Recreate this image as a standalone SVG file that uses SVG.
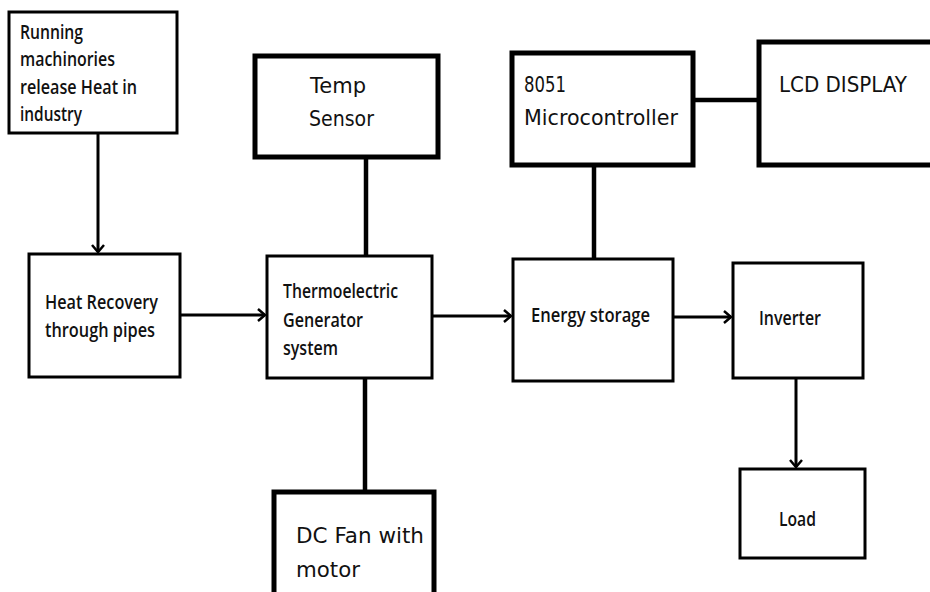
<svg xmlns="http://www.w3.org/2000/svg" width="930" height="592" viewBox="0 0 930 592">
<style>
.b{fill:#fff;stroke:#000;stroke-width:3}
.bt{fill:#fff;stroke:#000;stroke-width:5}
.c{fill:none;stroke:#000;stroke-width:3}
.ct{fill:none;stroke:#000;stroke-width:4.5}
.n{font-family:"Open Sans","Noto Sans",sans-serif;font-weight:600;font-size:19px;fill:#111}
.r{font-size:20px}
.g{font-family:"DejaVu Sans","Noto Sans",sans-serif;font-size:22px;fill:#111}
</style>
<defs>
<marker id="ar" markerWidth="14" markerHeight="14" refX="10" refY="7" orient="auto" markerUnits="userSpaceOnUse">
<path d="M3,1 L10,7 L3,13" fill="none" stroke="#000" stroke-width="2.5"/>
</marker>
</defs>
<rect width="930" height="592" fill="#fff"/>
<g id="connectors">
<line class="c" x1="98" y1="133" x2="98" y2="252" marker-end="url(#ar)"/>
<line class="c" x1="180" y1="315" x2="265" y2="315" marker-end="url(#ar)"/>
<line class="c" x1="432" y1="316" x2="511" y2="316" marker-end="url(#ar)"/>
<line class="c" x1="673" y1="317" x2="731" y2="317" marker-end="url(#ar)"/>
<line class="c" x1="796" y1="378" x2="796" y2="467" marker-end="url(#ar)"/>
<line class="ct" x1="366" y1="157" x2="366" y2="256"/>
<line class="ct" x1="365" y1="378" x2="365" y2="492"/>
<line class="ct" x1="594" y1="165" x2="594" y2="261"/>
<line class="ct" x1="693" y1="100" x2="758" y2="100"/>
</g>
<g id="running">
<rect class="b" x="9" y="12" width="168" height="121"/>
<text class="n r" x="20" y="39" textLength="63" lengthAdjust="spacingAndGlyphs">Running</text>
<text class="n r" x="20" y="66" textLength="95" lengthAdjust="spacingAndGlyphs">machinories</text>
<text class="n r" x="20" y="94" textLength="117" lengthAdjust="spacingAndGlyphs">release Heat in</text>
<text class="n r" x="20" y="121" textLength="62" lengthAdjust="spacingAndGlyphs">industry</text>
</g>
<g id="heatrecovery">
<rect class="b" x="29" y="254" width="151" height="123"/>
<text class="n" x="45" y="309" textLength="113" lengthAdjust="spacingAndGlyphs">Heat Recovery</text>
<text class="n" x="45" y="337" textLength="110" lengthAdjust="spacingAndGlyphs">through pipes</text>
</g>
<g id="teg">
<rect class="b" x="267" y="256" width="165" height="122"/>
<text class="n" x="283" y="298" textLength="115" lengthAdjust="spacingAndGlyphs">Thermoelectric</text>
<text class="n" x="283" y="327" textLength="80" lengthAdjust="spacingAndGlyphs">Generator</text>
<text class="n" x="283" y="355" textLength="55" lengthAdjust="spacingAndGlyphs">system</text>
</g>
<g id="tempsensor">
<rect class="bt" x="255" y="56" width="183" height="101"/>
<text class="g" x="310" y="93" textLength="56" lengthAdjust="spacingAndGlyphs">Temp</text>
<text class="g" x="309" y="126" textLength="65" lengthAdjust="spacingAndGlyphs">Sensor</text>
</g>
<g id="dcfan">
<rect class="bt" x="274" y="492" width="160" height="110"/>
<text class="g" x="296" y="543" textLength="128" lengthAdjust="spacingAndGlyphs">DC Fan with</text>
<text class="g" x="296" y="577" textLength="64" lengthAdjust="spacingAndGlyphs">motor</text>
</g>
<g id="mcu">
<rect class="bt" x="512" y="53" width="181" height="112"/>
<text class="g" x="524" y="92" textLength="42" lengthAdjust="spacingAndGlyphs">8051</text>
<text class="g" x="524" y="125" textLength="154" lengthAdjust="spacingAndGlyphs">Microcontroller</text>
</g>
<g id="lcd">
<rect class="bt" x="759" y="42" width="180" height="123"/>
<text class="g" x="779" y="92" textLength="128" lengthAdjust="spacingAndGlyphs">LCD DISPLAY</text>
</g>
<g id="energystorage">
<rect class="b" x="513" y="259" width="160" height="122"/>
<text class="n" x="531" y="322" textLength="119" lengthAdjust="spacingAndGlyphs">Energy storage</text>
</g>
<g id="inverter">
<rect class="b" x="733" y="263" width="130" height="115"/>
<text class="n" x="759" y="325" textLength="62" lengthAdjust="spacingAndGlyphs">Inverter</text>
</g>
<g id="load">
<rect class="b" x="740" y="469" width="125" height="89"/>
<text class="n" x="779" y="526" textLength="37" lengthAdjust="spacingAndGlyphs">Load</text>
</g>
</svg>
